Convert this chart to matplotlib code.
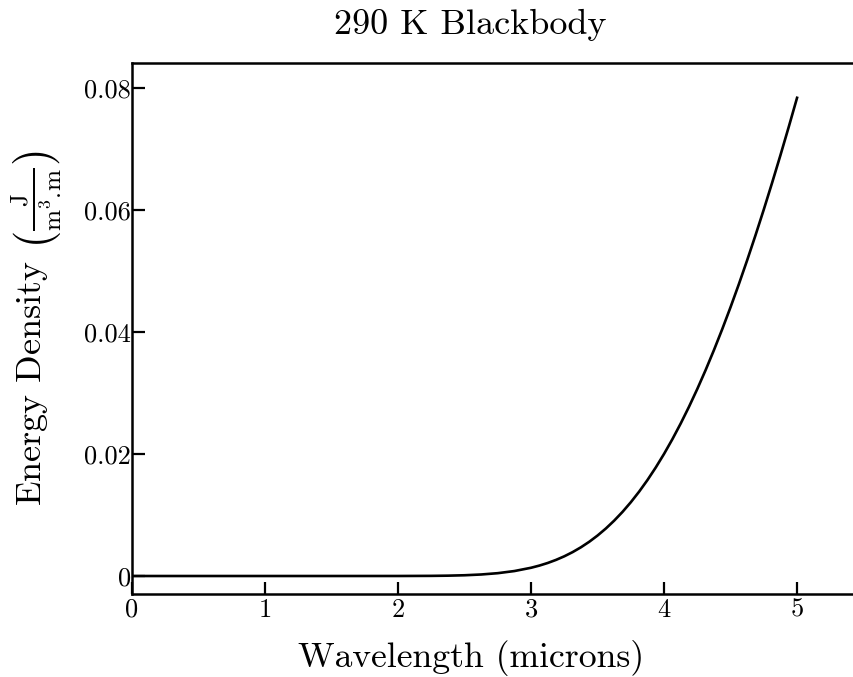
import matplotlib
matplotlib.use("Agg")
import matplotlib.pyplot as plt

plt.rcParams['font.family'] = 'serif'
plt.rcParams['font.serif'] = ['cmr10']
plt.rcParams['mathtext.fontset'] = 'cm'
plt.rcParams['axes.formatter.use_mathtext'] = True
plt.rcParams['axes.unicode_minus'] = False

# Wavelength (microns) and energy density (J / m^3.m)
wavelength = [0.0, 0.5, 1.0, 1.5, 2.0, 2.25, 2.375, 2.5, 2.625, 2.75, 2.875,
              3.0, 3.0625, 3.125, 3.1875, 3.25, 3.3125, 3.375, 3.4375,
              3.5, 3.5625, 3.625, 3.6875, 3.75, 3.8125, 3.875, 3.9375,
              4.0, 4.0625, 4.125, 4.1875, 4.25, 4.3125, 4.375, 4.4375,
              4.5, 4.5625, 4.625, 4.6875, 4.75, 4.8125, 4.875, 4.9375, 5.0]
energy = [0.0, 0.0, 0.0, 0.0, 0.000003, 0.000023, 0.000056, 0.000123, 0.000248,
          0.000464, 0.000814,
          0.001351, 0.001708, 0.002134, 0.002639, 0.003230, 0.003917, 0.004709,
          0.005611,
          0.006637, 0.007788, 0.009078, 0.010509, 0.012092, 0.013829, 0.015727,
          0.017790,
          0.020020, 0.022423, 0.024998, 0.027745, 0.030667, 0.033763, 0.037035,
          0.040475,
          0.044080, 0.047850, 0.051783, 0.055864, 0.060094, 0.064472, 0.068987,
          0.073631, 0.0784]

xticks = [0, 1, 2, 3, 4, 5]
xticklabels = ['0', '1', '2', '3', '4', '5']
yticks = [0, 0.02, 0.04, 0.06, 0.08]
yticklabels = ['0', '0.02', '0.04', '0.06', '0.08']

fig = plt.figure(figsize=(8.54, 6.77), dpi=100)
ax = fig.add_axes([0.1546, 0.1226, 0.8566, 0.7843])
ax.plot(wavelength, energy, color='black', lw=1.9, solid_joinstyle='round')

ax.set_xlim(0, 5.5)
ax.set_ylim(-0.00295, 0.0841)
ax.set_xticks(xticks)
ax.set_xticklabels(xticklabels)
ax.set_yticks(yticks)
ax.set_yticklabels(yticklabels)
ax.tick_params(direction='in', length=9, width=1.6, labelsize=19)
ax.tick_params(axis='y', pad=1)
ax.tick_params(axis='x', pad=3)

for s in ax.spines.values():
    s.set_linewidth(1.8)

ax.set_xlabel('Wavelength (microns)', fontsize=25.7, labelpad=13, x=0.464)
ax.set_ylabel(r'Energy Density $\left(\frac{\mathrm{J}}{\mathrm{m}^{3}.\!\mathrm{m}}\right)$',
              fontsize=26, labelpad=14)
ax.set_title('290 K Blackbody', fontsize=26, pad=21, x=0.462)

fig.savefig('out.png', dpi=100)
